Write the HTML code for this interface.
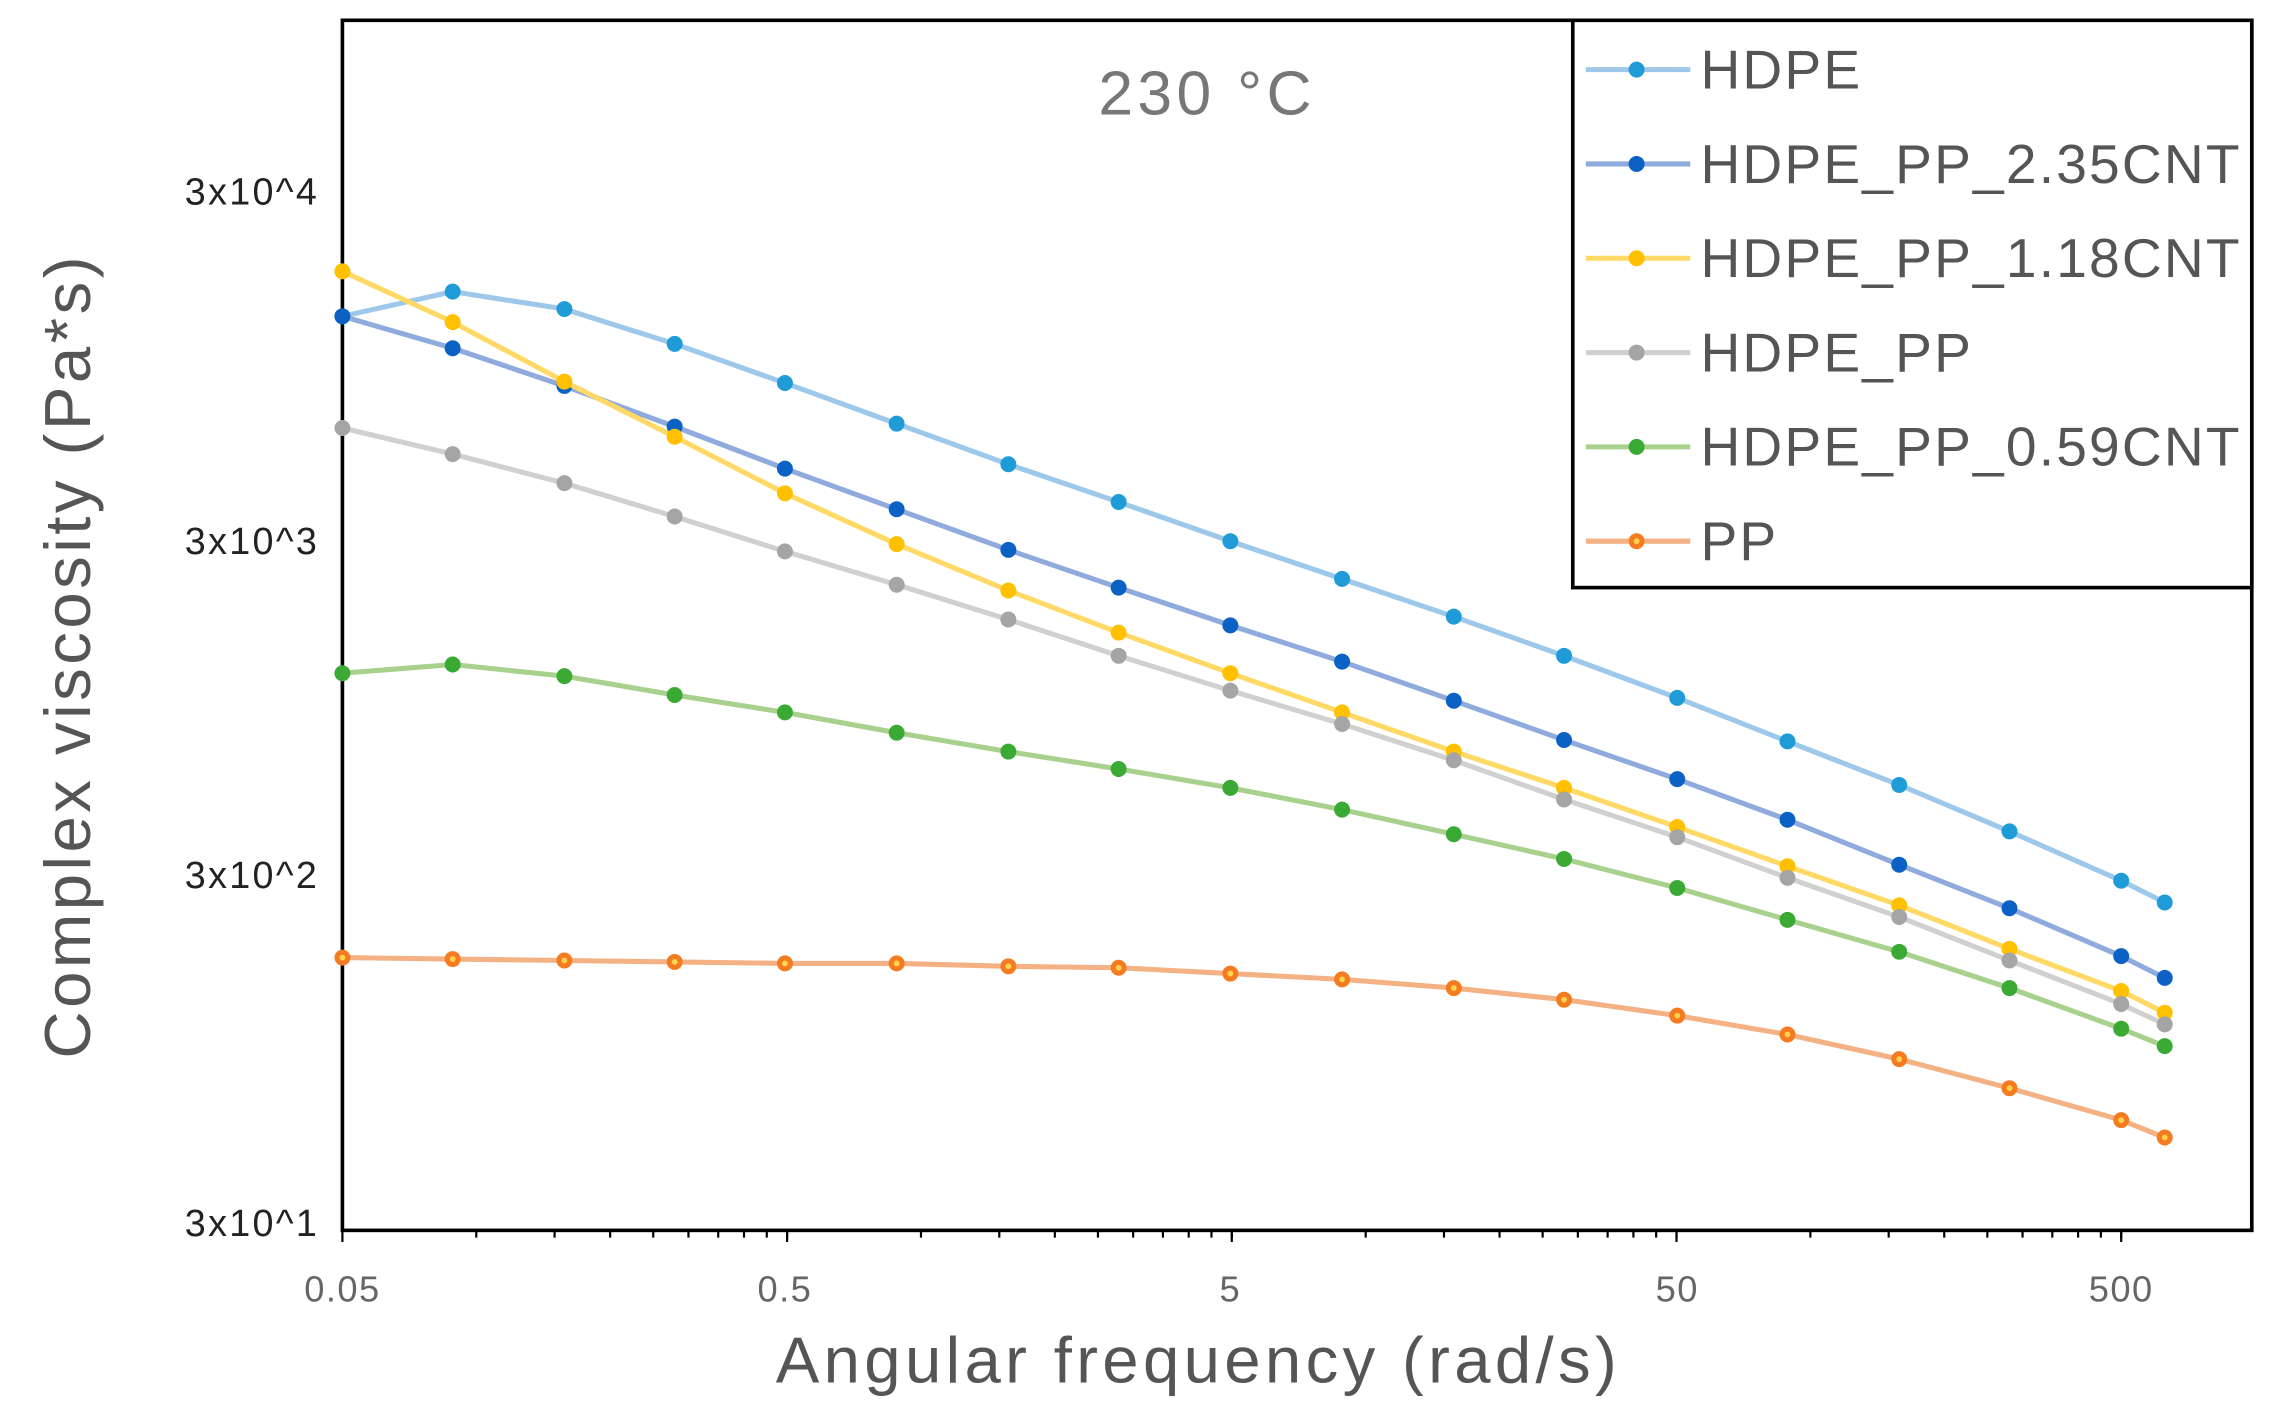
<!DOCTYPE html>
<html><head><meta charset="utf-8"><style>html,body{margin:0;padding:0;background:#fff}svg{display:block}</style></head>
<body>
<svg width="2275" height="1420" viewBox="0 0 1568 978.7" preserveAspectRatio="none" xmlns="http://www.w3.org/2000/svg" font-family="Liberation Sans, sans-serif">
<rect x="0" y="0" width="1568" height="979" fill="#fff"/>
<rect x="236" y="14" width="1316" height="834" fill="none" stroke="#000" stroke-width="2.5"/>
<g stroke="#000" stroke-width="1.5" id="ticks"></g>
<text x="832" y="79" font-size="43" fill="#777" text-anchor="middle" letter-spacing="3">230 °C</text>
<g font-size="26" fill="#222" text-anchor="end" letter-spacing="1.6">
<text x="220" y="141">3x10^4</text>
<text x="220" y="382">3x10^3</text>
<text x="220" y="612">3x10^2</text>
<text x="220" y="852">3x10^1</text>
</g>
<g font-size="25" fill="#666" text-anchor="middle" letter-spacing="1">
<text x="236" y="897">0.05</text>
<text x="541" y="897">0.5</text>
<text x="848" y="897">5</text>
<text x="1156" y="897">50</text>
<text x="1462" y="897">500</text>
</g>
<text x="826" y="953" font-size="45" fill="#555" text-anchor="middle" letter-spacing="3">Angular frequency (rad/s)</text>
<text transform="translate(62,452) rotate(-90)" font-size="45" fill="#555" text-anchor="middle" letter-spacing="2.4">Complex viscosity (Pa*s)</text>
<g id="series" fill="none" stroke-width="3"></g>
<rect x="1084" y="14" width="468" height="391" fill="#fff" stroke="#000" stroke-width="2.5"/>
<g id="legend"></g>
<script>
var NS="http://www.w3.org/2000/svg";
function el(t,a,p){var e=document.createElementNS(NS,t);for(var k in a)e.setAttribute(k,a[k]);p.appendChild(e);return e;}
var tk=document.getElementById('ticks');
for(var d=0;d<5;d++){for(var m=1;m<=10;m++){var v=0.05*Math.pow(10,d)*m;var x=236+306.5*Math.log10(v/0.05);if(x>1552)break;var L=(m==1)?8:5;el('line',{x1:x,y1:848,x2:x,y2:848+L},tk);}}
var xs=[236,312,389,465,541,618,695,771,848,925,1002,1078,1156,1232,1309,1385,1462,1492];
var S=[
["HDPE","#9dc8ea","#1f9bd7",[218,201,213,237,264,292,320,346,373,399,425,452,481,511,541,573,607,622]],
["HDPE_PP_2.35CNT","#8faadc","#0b62c4",[218,240,266,294,323,351,379,405,431,456,483,510,537,565,596,626,659,674]],
["HDPE_PP_1.18CNT","#ffd966","#ffc000",[187,222,263,301,340,375,407,436,464,491,518,543,570,597,624,654,683,698]],
["HDPE_PP","#d0d0d0","#a5a5a5",[295,313,333,356,380,403,427,452,476,499,524,551,577,605,632,662,692,706]],
["HDPE_PP_0.59CNT","#a9d18e","#3aaa35",[464,458,466,479,491,505,518,530,543,558,575,592,612,634,656,681,709,721]],
["PP","#f4b183","#f47b20",[660,661,662,663,664,664,666,667,671,675,681,689,700,713,730,750,772,784]]];
var g=document.getElementById('series'),lg=document.getElementById('legend');
S.forEach(function(s,i){
 var pts=xs.map(function(x,j){return x+','+s[3][j]}).join(' ');
 el('polyline',{points:pts,stroke:s[1],'stroke-width':3.5,fill:'none','stroke-linejoin':'round'},g);
 xs.forEach(function(x,j){el('circle',{cx:x,cy:s[3][j],r:5.5,fill:s[2]},g); if(i==5)el('circle',{cx:x,cy:s[3][j],r:2,fill:'#ffd34d'},g);});
 var y=48+65*i;
 el('line',{x1:1093,y1:y,x2:1165,y2:y,stroke:s[1],'stroke-width':3.5},lg);
 el('circle',{cx:1128,cy:y,r:5.5,fill:s[2]},lg);
 if(i==5)el('circle',{cx:1128,cy:y,r:2,fill:'#ffd34d'},lg);
 var t=el('text',{x:1172,y:y+13,'font-size':38,fill:'#555','letter-spacing':1.5},lg);t.textContent=s[0];
});
</script>
</svg>
</body></html>
